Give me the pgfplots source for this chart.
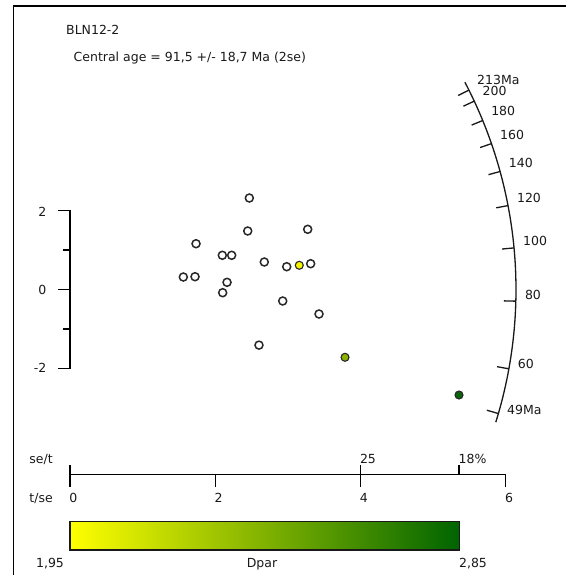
\documentclass[border=0pt]{standalone}
\usepackage{fontspec}
\setmainfont{DejaVu Sans}
\usepackage{pgfplots}
\pgfplotsset{compat=1.18}
\definecolor{ptedge}{RGB}{40,40,40}
\definecolor{dyel}{RGB}{245,245,0}
\definecolor{dolive}{RGB}{138,178,0}
\definecolor{dgreen}{RGB}{10,100,10}
\definecolor{cbL}{RGB}{255,255,0}
\definecolor{cbR}{RGB}{0,100,0}
\definecolor{txt}{RGB}{25,25,25}
\newcommand{\fs}{\fontsize{12.5bp}{15bp}\selectfont}
\begin{document}
\begin{tikzpicture}
\begin{axis}[
  x=72.6bp, y=39.5bp,
  xmin=0, xmax=6, ymin=-2, ymax=2,
  enlargelimits=false,
  clip=false,
  axis x line=none,
  axis y line=left,
  y axis line style={-, line width=1.3bp, black},
  ytick=\empty,
]
\addplot[only marks, mark=*, mark size=4bp, mark options={fill=white, draw=ptedge, line width=1.5bp}] coordinates {
(2.470,2.316) (2.448,1.481) (3.274,1.524) (1.736,1.159) (2.098,0.866)
(2.227,0.866) (2.676,0.696) (2.985,0.577) (3.315,0.653) (1.561,0.316)
(1.722,0.324) (2.163,0.182) (2.103,-0.081) (2.930,-0.291) (3.430,-0.620)
(2.603,-1.408)
};
\addplot[only marks, mark=*, mark size=4bp, mark options={fill=dyel, draw=ptedge, line width=1.1bp}] coordinates {(3.158,0.613)};
\addplot[only marks, mark=*, mark size=4bp, mark options={fill=dolive, draw=ptedge, line width=1.1bp}] coordinates {(3.788,-1.716)};
\addplot[only marks, mark=*, mark size=4bp, mark options={fill=dgreen, draw=ptedge, line width=1.1bp}] coordinates {(5.358,-2.671)};
\coordinate (O) at (axis cs:0,0);
\end{axis}
% radial age scale
\begin{scope}[shift={(O)}, font=\fs, text=txt]
  \draw[line width=1.3bp, black!90] (-17.3:446bp) arc[start angle=-17.3, end angle=27.7, radius=446bp];
  \foreach \a in {-16.15,-10.245,-1.501,5.351,10.847,15.344,19.093,22.266,24.985,26.558}
    \draw[line width=1.3bp, black!90] (\a:446bp) -- (\a:434bp);
  \foreach \a/\t in {-16.15/49Ma,-10.245/60,-1.501/80,5.351/100,10.847/120,15.344/140,19.093/160,22.266/180,24.985/200,26.558/213Ma}
    \node[anchor=west, inner sep=0pt, yshift=6bp] at (\a:455bp) {\t};
\end{scope}
% pixel-based decorations
\begin{scope}[shift={(O)}, xshift=-70bp, yshift=289.5bp, x=1bp, y=-1bp, font=\fs, text=txt]
  % frame
  \draw[line width=1.4bp, black] (13.5,575) -- (13.5,6) -- (566,6);
  % titles
  \node[anchor=base west, inner sep=0pt] at (66,34.5) {BLN12-2};
  \node[anchor=base west, inner sep=0pt] at (73.5,62) {Central age = 91,5 +/- 18,7 Ma (2se)};
  % y ticks and labels
  \foreach \y in {210.5,289.5,368.5}
    \draw[line width=1.3bp, black] (70,\y) -- (57.5,\y);
  \foreach \y in {250,329}
    \draw[line width=1.3bp, black] (70,\y) -- (63.3,\y);
  \node[anchor=east, inner sep=0pt] at (46.5,211.5) {2};
  \node[anchor=east, inner sep=0pt] at (46.5,290) {0};
  \node[anchor=east, inner sep=0pt] at (46.5,368) {-2};
  % precision axis
  \draw[line width=1.3bp, black] (70,474.5) -- (505.6,474.5);
  \foreach \x in {70,215.2,360.4,505.6}
    \draw[line width=1.3bp, black] (\x,474.5) -- (\x,486.5);
  \draw[line width=1.3bp, black] (70,474.5) -- (70,464.5);
  \draw[line width=1.3bp, black] (360.4,474.5) -- (360.4,465);
  \draw[line width=1.3bp, black] (459,474.5) -- (459,465);
  \foreach \x/\t in {70/0,215.2/2,360.4/4,505.6/6}
    \node[anchor=base west, inner sep=0pt] at (\x-0.8,502) {\t};
  \node[anchor=base west, inner sep=0pt] at (359.8,463) {25};
  \node[anchor=base west, inner sep=0pt] at (458.4,463) {18\%};
  \node[anchor=base east, inner sep=0pt] at (53,463) {se/t};
  \node[anchor=base east, inner sep=0pt] at (53,502) {t/se};
  % colour bar
  \shade[left color=cbL, right color=cbR] (70,521.7) rectangle (459.6,550);
  \draw[line width=1.2bp, black!90] (70,521.7) rectangle (459.6,550);
  \node[anchor=base, inner sep=0pt] at (50,567) {1,95};
  \node[anchor=base, inner sep=0pt] at (262,567) {Dpar};
  \node[anchor=base, inner sep=0pt] at (473,567) {2,85};
  \pgfresetboundingbox
  \path[use as bounding box] (0,0) rectangle (566,575);
\end{scope}
\end{tikzpicture}
\end{document}
